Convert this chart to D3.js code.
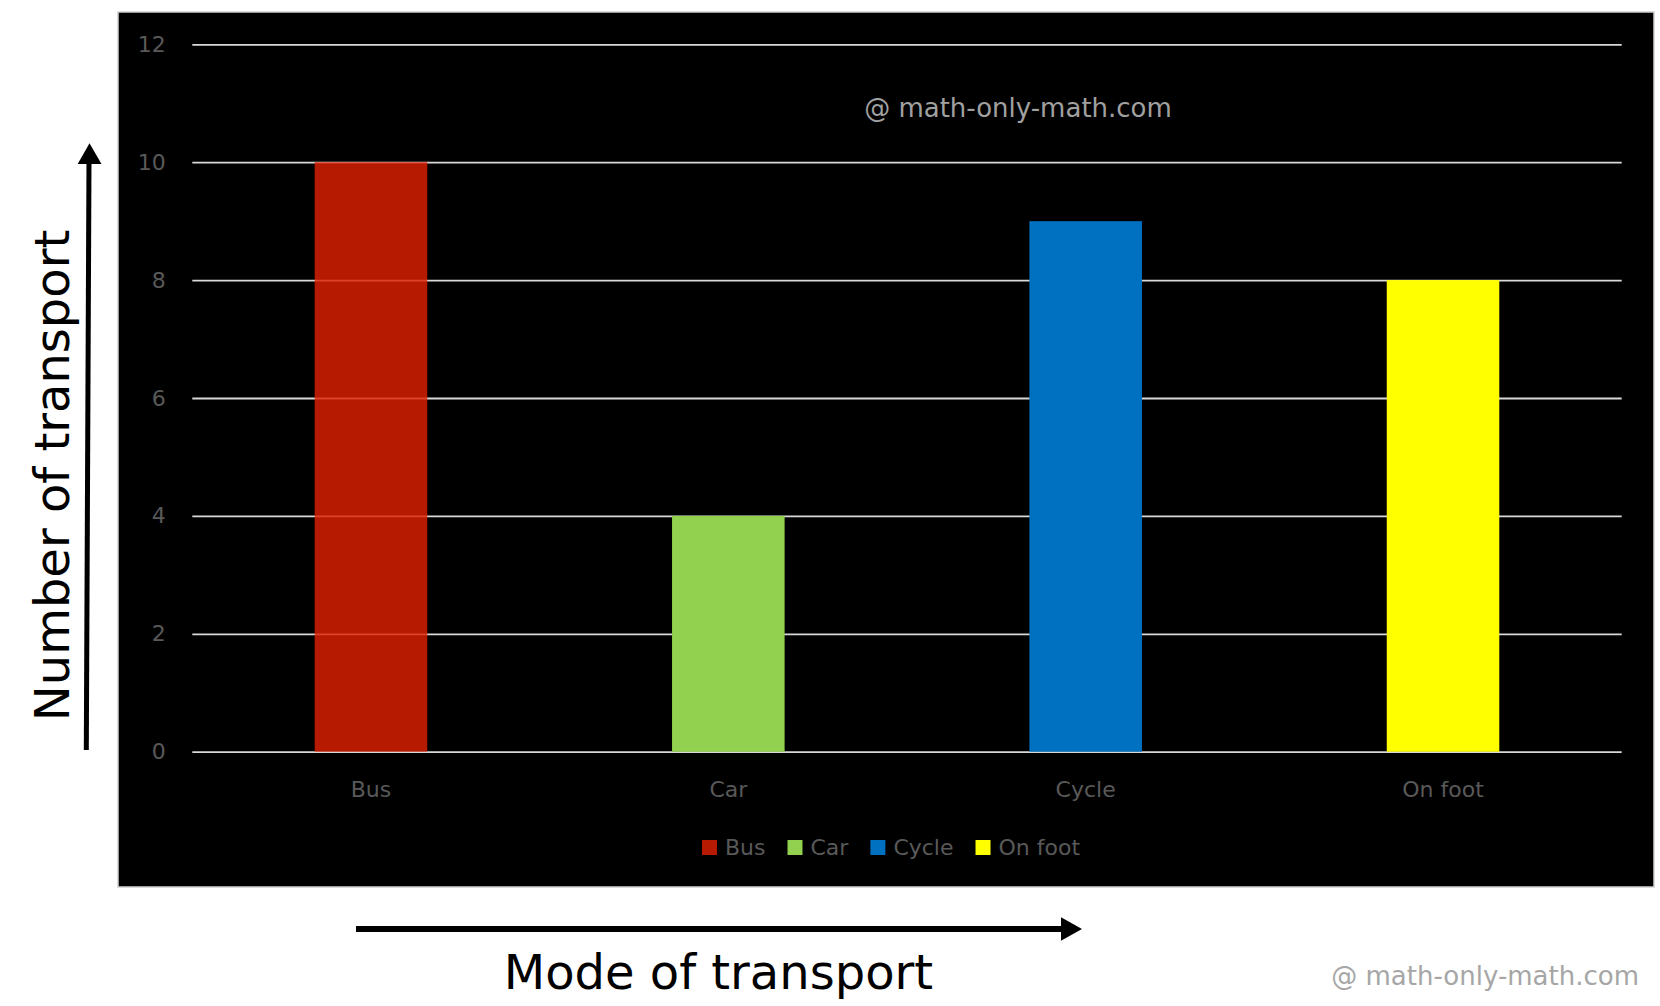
<!DOCTYPE html>
<html>
<head>
<meta charset="utf-8">
<script src="https://cdn.jsdelivr.net/npm/d3@7"></script>
<style>
  html, body { margin: 0; padding: 0; background: #ffffff; }
  svg { display: block; }
  text { font-family: "DejaVu Sans", Verdana, sans-serif; }
</style>
</head>
<body>
<svg id="chart" width="1660" height="1006"></svg>
<script>
// ---- data ----
const categories = ["Bus", "Car", "Cycle", "On foot"];
const values = [10, 4, 9, 8];
const yTicks = [0, 2, 4, 6, 8, 10, 12];
const legendLabels = ["Bus", "Car", "Cycle", "On foot"];

// ---- styles ----
const barColors = ["#e02000", "#92d050", "#0070c0", "#ffff00"];
const barOpacity = [0.81, 1, 1, 1];

const svg = d3.select("#chart");

// chart frame
const box = { x: 118, y: 12, w: 1536, h: 875 };
svg.append("rect")
  .attr("x", box.x).attr("y", box.y).attr("width", box.w).attr("height", box.h)
  .attr("fill", "#000").attr("stroke", "#cfcfcf").attr("stroke-width", 1.5);

const plot = { left: 192.3, right: 1621.7, top: 44.3, bottom: 751.7 };

const x = d3.scaleBand()
  .domain(categories)
  .range([plot.left, plot.right])
  .paddingInner(0.685)
  .paddingOuter(0.3425);

const y = d3.scaleLinear().domain([0, 12]).range([plot.bottom, plot.top]);

// gridlines + y tick labels
const yAxis = svg.append("g")
  .attr("transform", `translate(${plot.left},0)`)
  .call(d3.axisLeft(y).tickValues(yTicks).tickSize(-(plot.right - plot.left)).tickPadding(26.5));
yAxis.select(".domain").remove();
yAxis.selectAll(".tick line").attr("stroke", "#d9d9d9").attr("stroke-width", 1.8);
yAxis.selectAll(".tick text")
  .attr("fill", "#595959").attr("font-size", 22)
  .style("font-family", "'DejaVu Sans', Verdana, sans-serif");

// bars
svg.append("g").selectAll("rect")
  .data(categories)
  .join("rect")
  .attr("x", d => x(d))
  .attr("y", (d, i) => y(values[i]))
  .attr("width", x.bandwidth())
  .attr("height", (d, i) => y(0) - y(values[i]))
  .attr("fill", (d, i) => barColors[i])
  .attr("fill-opacity", (d, i) => barOpacity[i]);

// x axis labels
const xAxis = svg.append("g")
  .attr("transform", `translate(0,${plot.bottom})`)
  .call(d3.axisBottom(x).tickSize(0).tickPadding(29.7));
xAxis.select(".domain").remove();
xAxis.selectAll(".tick text")
  .attr("fill", "#595959").attr("font-size", 22)
  .style("font-family", "'DejaVu Sans', Verdana, sans-serif");

// legend
const legend = svg.append("g");
let lx = 702;
legendLabels.forEach((lab, i) => {
  legend.append("rect")
    .attr("x", lx).attr("y", 840).attr("width", 15).attr("height", 15)
    .attr("fill", barColors[i]).attr("fill-opacity", barOpacity[i]);
  const t = legend.append("text")
    .attr("x", lx + 23).attr("y", 855)
    .attr("fill", "#595959").attr("font-size", 22)
    .text(lab);
  lx = lx + 23 + t.node().getComputedTextLength() + 22;
});

// in-chart watermark
svg.append("text")
  .attr("x", 1018).attr("y", 117.3)
  .attr("text-anchor", "middle")
  .attr("fill", "#a0a0a0").attr("font-size", 26)
  .text("@ math-only-math.com");

// y axis title and arrow
svg.append("text")
  .attr("transform", "translate(69,475.5) rotate(-90)")
  .attr("text-anchor", "middle")
  .attr("fill", "#000").attr("font-size", 48)
  .text("Number of transport");

svg.append("line")
  .attr("x1", 86.3).attr("y1", 750).attr("x2", 89).attr("y2", 160)
  .attr("stroke", "#000").attr("stroke-width", 5);
svg.append("path")
  .attr("d", "M89.5,143.3 L101.5,164 L77.7,164 Z")
  .attr("fill", "#000");

// x axis title and arrow
svg.append("line")
  .attr("x1", 356).attr("y1", 929).attr("x2", 1064).attr("y2", 929)
  .attr("stroke", "#000").attr("stroke-width", 6);
svg.append("path")
  .attr("d", "M1082,929 L1061,917.3 L1061,940.7 Z")
  .attr("fill", "#000");

svg.append("text")
  .attr("x", 718.4).attr("y", 989.3)
  .attr("text-anchor", "middle")
  .attr("fill", "#000").attr("font-size", 48)
  .text("Mode of transport");

// bottom watermark
svg.append("text")
  .attr("x", 1639).attr("y", 985)
  .attr("text-anchor", "end")
  .attr("fill", "#a6a6a6").attr("font-size", 26)
  .text("@ math-only-math.com");
</script>
</body>
</html>
